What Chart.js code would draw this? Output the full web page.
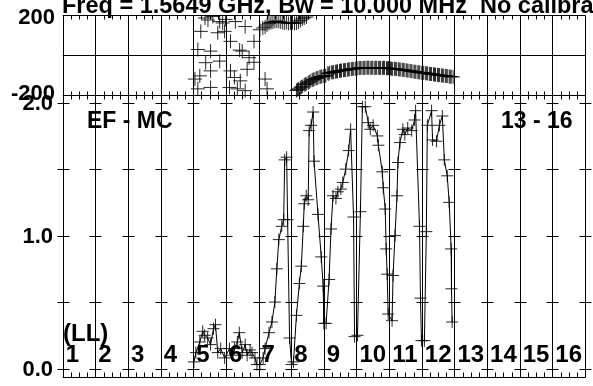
<!DOCTYPE html>
<html><head><meta charset="utf-8">
<script src="https://cdn.jsdelivr.net/npm/chart.js@4"></script>
<style>html,body{margin:0;padding:0;background:#fff;overflow:hidden}canvas{display:block}</style>
</head><body>
<canvas id="c" width="593" height="386"></canvas>
<script>
// ---- data (x in IF units: column k spans [k-1, k]) ----
const titleText = "Freq = 1.5649 GHz, Bw = 10.000 MHz  No calibration";
const baselineLabel = "EF - MC";
const ifRangeLabel = "13 - 16";
const polLabel = "(LL)";
const ifLabels = ["1","2","3","4","5","6","7","8","9","10","11","12","13","14","15","16"];
const phaseTicks = [200, -200];
const ampTicks = ["2.0","1.0","0.0"];

const ampX = [4.02,4.08,4.20,4.29,4.35,4.44,4.53,4.62,4.68,4.75,4.84,4.96,
  5.11,5.20,5.26,5.35,5.41,5.50,5.59,5.65,5.74,5.80,5.89,5.95,
  6.04,6.14,6.20,6.32,6.41,6.50,6.56,6.62,6.71,6.77,6.80,6.86,6.89,6.95,7.01,
  7.07,7.16,7.25,7.31,7.37,7.40,7.46,7.52,7.55,7.61,7.67,7.70,7.82,7.92,7.98,8.00,
  8.07,8.16,8.22,8.28,8.37,8.43,8.52,8.58,8.67,8.76,8.82,8.91,8.94,
  9.03,9.12,9.18,9.27,9.36,9.42,9.51,9.64,9.67,9.79,9.82,9.88,9.91,9.94,9.97,10.09,
  10.12,10.18,10.24,10.27,10.33,10.42,10.48,10.57,10.69,10.78,10.81,10.93,10.96,10.99,
  11.08,11.14,11.17,11.30,11.33,11.45,11.54,11.63,11.69,11.78,11.84,11.90,11.91,11.93];
const ampY = [0.05,0.12,0.20,0.28,0.25,0.23,0.18,0.30,0.33,0.12,0.15,0.08,
  0.15,0.10,0.15,0.20,0.27,0.12,0.18,0.10,0.14,0.12,0.08,0.03,
  0.03,0.08,0.15,0.27,0.35,0.50,0.75,0.97,1.07,1.12,1.57,1.59,1.12,0.23,0.03,
  0.05,0.40,0.64,0.77,1.07,1.24,1.30,1.27,1.79,1.83,1.93,1.56,1.16,0.84,0.62,0.34,
  0.34,0.67,1.05,1.30,1.28,1.33,1.35,1.40,1.50,1.64,1.80,1.14,0.24,
  0.25,1.18,1.97,1.97,1.85,1.80,1.83,1.75,1.68,1.48,1.36,1.20,0.90,0.71,0.41,0.36,
  0.70,1.00,1.30,1.55,1.70,1.80,1.76,1.81,1.79,1.87,1.94,1.07,0.53,0.21,
  0.21,1.03,1.83,1.94,1.72,1.71,1.83,1.90,1.57,1.45,1.25,0.90,0.60,0.35];

const phaseX = [4.45,4.81,4.23,4.75,4.90,5.29,5.59,5.14,5.86,4.14,4.53,5.50,4.81,4.38,5.71,4.53,4.20,4.05,5.14,5.65,
  5.26,5.44,5.11,4.53,4.14,5.35,5.59,6.20,6.26,5.86,5.42,4.96,4.36,4.60,4.99,
  6.04,6.13,6.20,6.26,6.32,6.38,6.44,6.50,6.56,6.62,6.68,6.74,6.80,6.86,6.92,6.98,7.04,7.10,7.16,7.22,7.28,7.34,7.40,7.47,
  7.16,7.22,7.28,7.34,7.40,7.46,7.52,7.58,7.64,7.70,7.76,7.82,7.88,7.94,8.00,8.06,8.12,8.18,8.24,8.30,8.36,8.42,8.48,
  8.54,8.60,8.66,8.72,8.78,8.84,8.90,8.96,9.02,9.08,9.14,9.20,9.26,9.32,9.38,9.44,9.50,9.56,9.62,9.68,9.74,9.80,9.86,
  9.92,9.98,10.04,10.10,10.16,10.22,10.28,10.34,10.40,10.46,10.52,10.58,10.64,10.70,10.76,10.82,10.88,10.94,11.00,
  11.06,11.12,11.18,11.24,11.30,11.36,11.42,11.48,11.54,11.60,11.66,11.72,11.78,11.84,11.90,11.96,
  7.19,7.31,7.43,7.55,7.67,7.79,7.91,8.03,8.15,8.27,8.39,8.51,8.63,8.75,8.87,8.99,9.11,9.23,9.35,9.47,9.59,9.71,9.83,9.95,
  10.07,10.19,10.31,10.43,10.55,10.67,10.79,10.91,11.03,11.15,11.27,11.39,11.51,11.63,11.75,11.87];
const phaseY = [175,167,118,111,160,167,142,68,68,27,19,19,-31,-39,-14,-80,-105,-121,-80,-72,
  -113,-130,-163,-163,-170,-170,-179,-121,-170,-37,24,118,185,192,178,
  126,135,140,150,158,162,165,168,170,168,165,162,160,162,158,160,162,158,160,165,172,180,185,190,
  -178,-170,-165,-158,-150,-145,-140,-132,-127,-122,-118,-114,-110,-108,-106,-104,-92,-88,-88,-86,-84,-82,-80,
  -78,-77,-76,-74,-72,-71,-70,-69,-67,-66,-65,-66,-64,-65,-64,-65,-64,-66,-65,-64,-65,-66,-65,
  -67,-66,-68,-70,-69,-71,-72,-73,-74,-76,-77,-79,-80,-82,-84,-85,-87,-88,-90,
  -90,-92,-93,-95,-96,-97,-99,-100,-101,-103,-104,-105,-106,-108,-109,-110,
  -174,-161,-147,-136,-124,-116,-109,-105,-95,-87,-83,-79,-76,-73,-70,-68,-65,-65,-63,-65,-64,-66,-64,-67,
  -69,-70,-73,-75,-78,-81,-84,-87,-89,-92,-95,-98,-101,-103,-106,-109];

const pts = (xs, ys) => xs.map((x, i) => ({x, y: ys[i]}));
const FONT = '"Liberation Sans", Arial, Helvetica, sans-serif';

const gridPlugin = {
  id: 'grid',
  beforeDatasetsDraw(chart) {
    const {ctx, chartArea: a, scales: {x, yP, yA}} = chart;
    const r = v => Math.round(v) + 0.5;
    ctx.save();
    ctx.strokeStyle = '#000';
    ctx.lineWidth = 1;
    const seg = (x1, y1, x2, y2) => { ctx.beginPath(); ctx.moveTo(x1, y1); ctx.lineTo(x2, y2); ctx.stroke(); };
    const top = r(yP.getPixelForValue(200)), mid = r(yP.getPixelForValue(0)), sep = r(yP.getPixelForValue(-200));
    const bot = Math.round(a.bottom) - 0.5;
    seg(a.left, top, a.right, top);
    seg(a.left, mid, a.right, mid);
    seg(a.left, sep, a.right, sep);
    seg(a.left, bot, a.right, bot);
    for (let k = 0; k <= 16; k++) {
      const px = r(x.getPixelForValue(k));
      seg(px, top, px, bot);
      for (const v of [0, 0.5, 1.0, 1.5, 2.0]) {
        const py = r(yA.getPixelForValue(v));
        seg(px - 6, py, px + 6, py);
      }
    }
    for (let m = 0; m <= 64; m++) {
      const px = r(x.getPixelForValue(m / 4));
      seg(px, top, px, top + 4);
      seg(px, sep - 4, px, sep + 4);
      seg(px, bot, px, bot - 5);
    }
    ctx.restore();
  },
  afterDatasetsDraw(chart) {
    const {ctx, scales: {x, yP, yA}} = chart;
    ctx.save();
    ctx.fillStyle = '#000';
    ctx.textBaseline = 'alphabetic';
    ctx.textAlign = 'left';
    ctx.font = 'bold 23.5px ' + FONT;
    ctx.fillText(titleText, 62, 13);
    ctx.font = 'bold 23px ' + FONT;
    ctx.fillText(baselineLabel, 87, 128);
    ctx.fillText(ifRangeLabel, 501, 128);
    ctx.font = 'bold 24px ' + FONT;
    ctx.fillText(polLabel, 63, 341);
    ifLabels.forEach((t, i) => ctx.fillText(t, x.getPixelForValue(i) + 3, 362));
    ctx.font = 'bold 22px ' + FONT;
    ctx.textAlign = 'right';
    ctx.textBaseline = 'middle';
    ctx.fillText(String(phaseTicks[0]), 55, yP.getPixelForValue(phaseTicks[0]) + 3);
    ctx.fillText(String(phaseTicks[1]), 55, yP.getPixelForValue(phaseTicks[1]) - 1);
    ampTicks.forEach(t => ctx.fillText(t, 53, yA.getPixelForValue(parseFloat(t)) + 1));
    ctx.restore();
  }
};

new Chart(document.getElementById('c'), {
  type: 'scatter',
  data: {
    datasets: [
      {
        label: 'Phase', yAxisID: 'yP', data: pts(phaseX, phaseY), showLine: false,
        pointStyle: 'cross', pointRadius: 7, pointBorderWidth: 1,
        borderColor: 'rgba(0,0,0,0.85)', backgroundColor: 'rgba(0,0,0,0.85)'
      },
      {
        label: 'Amplitude', yAxisID: 'yA', data: pts(ampX, ampY), showLine: true,
        borderColor: '#000', borderWidth: 1, tension: 0,
        pointStyle: 'cross', pointRadius: 6, pointBorderWidth: 1,
        pointBorderColor: 'rgba(0,0,0,0.85)', pointBackgroundColor: 'rgba(0,0,0,0.85)'
      }
    ]
  },
  options: {
    responsive: false, animation: false, devicePixelRatio: 1,
    layout: {padding: {left: 62.7, right: 0, top: 15, bottom: 2.7}},
    plugins: {legend: {display: false}, tooltip: {enabled: false}},
    scales: {
      x: {type: 'linear', min: 0, max: 16, display: false},
      yP: {type: 'linear', min: -1618.8, max: 200, display: false},
      yA: {type: 'linear', min: -0.0712, max: 2.66, display: false}
    }
  },
  plugins: [gridPlugin]
});
</script>
</body></html>
